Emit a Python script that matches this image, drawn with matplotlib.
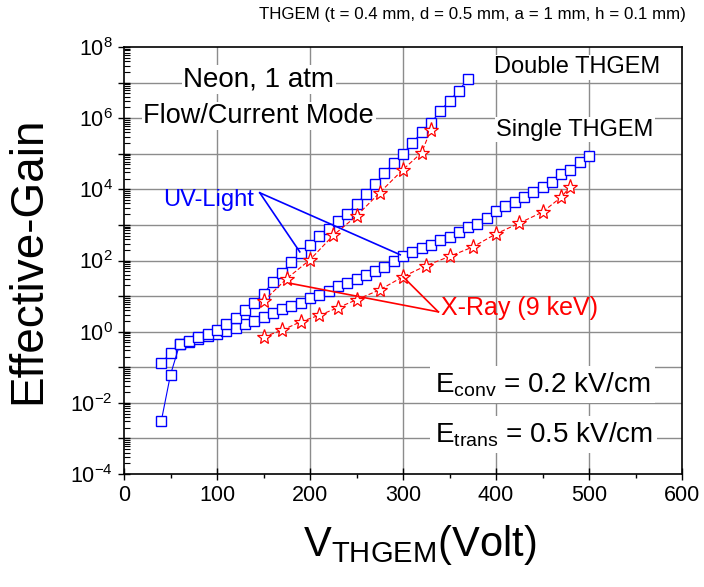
import numpy as np
import matplotlib.pyplot as plt
from matplotlib.ticker import LogLocator, FuncFormatter, MultipleLocator, NullFormatter

plt.rcParams['font.family'] = ['Liberation Sans', 'DejaVu Sans']
plt.rcParams['mathtext.fontset'] = 'custom'
plt.rcParams['mathtext.rm'] = 'Liberation Sans'

# Double THGEM, UV light
v_double_uv = np.arange(40, 371, 10)
g_double_uv = [0.003, 0.062, 0.45, 0.54, 0.69, 0.87, 1.12, 1.6, 2.5, 4.0, 6.6, 11.5, 25, 46,
               89, 160, 280, 500, 790, 1260, 2000, 3900, 7400, 14000, 28000, 56000, 1.0e5,
               2.0e5, 4.0e5, 7.2e5, 1.6e6, 3.1e6, 5.9e6, 1.3e7]

# Single THGEM, UV light
v_single_uv = np.arange(40, 501, 10)
g_single_uv = [0.13, 0.25, 0.45, 0.50, 0.63, 0.74, 0.87, 1.05, 1.3, 1.6, 2.0, 2.6, 3.4, 4.3,
               5.4, 6.6, 8.9, 11, 14, 19, 24, 31, 38, 52, 66, 95, 130, 170, 230, 270, 370,
               460, 630, 870, 1070, 1600, 2400, 3300, 4400, 6000, 8300, 11500, 15800, 27500,
               35500, 59000, 89000]

# Double THGEM, X-ray
v_double_xr = [150, 175, 200, 225, 250, 275, 300, 320, 330]
g_double_xr = [7.2, 31, 105, 510, 1780, 8100, 36000, 107000, 480000]

# Single THGEM, X-ray
v_single_xr = [150, 170, 190, 210, 230, 250, 275, 300, 325, 350, 375, 400, 425, 450, 470, 480]
g_single_xr = [0.71, 1.1, 1.9, 2.9, 4.7, 7.9, 15, 35, 72, 130, 240, 560, 1120, 2300, 6000, 12000]

fig = plt.figure(figsize=(7.04, 5.87), dpi=100)
ax = fig.add_axes([124 / 704, 1 - 474 / 587, 558 / 704, 427 / 587])

ax.set_xlim(0, 600)
ax.set_yscale('log')
ax.set_ylim(1e-4, 1e8)

sq = dict(marker='s', markersize=6.8, markerfacecolor='white', markeredgecolor='blue',
          markeredgewidth=1.0, color='blue', lw=0.8)
st = dict(marker='*', markersize=11, markerfacecolor='white', markeredgecolor='red',
          markeredgewidth=0.9, color='red', lw=0.8, dashes=(4, 2))

ax.plot(v_single_uv, g_single_uv, zorder=3, **sq)
ax.plot(v_double_uv, g_double_uv, zorder=3, **sq)
ax.plot(v_single_xr, g_single_xr, zorder=4, **st)
ax.plot(v_double_xr, g_double_xr, zorder=4, **st)

# ticks and grid
ax.xaxis.set_major_locator(MultipleLocator(100))
ax.xaxis.set_minor_locator(MultipleLocator(50))
ax.yaxis.set_major_locator(LogLocator(base=10, numticks=20))
ax.yaxis.set_minor_locator(LogLocator(base=10, subs=np.arange(2, 10), numticks=20))
ax.yaxis.set_minor_formatter(NullFormatter())


def ylab(y, pos):
    e = int(round(np.log10(y)))
    if e % 2:
        return ''
    return r'$\mathregular{10^{%d}}$' % e


ax.yaxis.set_major_formatter(FuncFormatter(ylab))
for xv in range(100, 600, 100):
    ax.axvline(xv, color='#8c8c8c', lw=1.0, zorder=0)
for e in range(-3, 8):
    ax.axhline(10.0 ** e, color='#8c8c8c', lw=1.0, zorder=0)

ax.tick_params(which='major', direction='inout', length=8, width=1, labelsize=15.5, pad=4)
ax.tick_params(axis='y', which='minor', direction='in', length=4, width=0.8)
ax.tick_params(axis='x', which='minor', direction='out', length=3, width=1)
for s in ax.spines.values():
    s.set_linewidth(1.2)

ax.set_ylabel('Effective-Gain', fontsize=33)
ax.yaxis.set_label_coords(-0.133, 0.5)
ax.set_xlabel(r'V$_{\mathregular{THGEM}}$(Volt)', fontsize=30)
ax.xaxis.set_label_coords(0.53, -0.115)

box = dict(facecolor='white', edgecolor='none', pad=1)
ax.text(145, 1.2e7, 'Neon, 1 atm', fontsize=20, ha='center', va='center', bbox=box, zorder=5)
ax.text(145, 1.15e6, 'Flow/Current Mode', fontsize=19.5, ha='center', va='center', bbox=box, zorder=5)
ax.text(487, 2.7e7, 'Double THGEM', fontsize=17, ha='center', va='center', bbox=box, zorder=5)
ax.text(485, 4.7e5, 'Single THGEM', fontsize=17, ha='center', va='center', bbox=box, zorder=5)
ax.text(91, 5.0e3, 'UV-Light', fontsize=17, color='blue', ha='center', va='center', zorder=5)
ax.text(425, 4.7, 'X-Ray (9 keV)', fontsize=18, color='red', ha='center', va='center', zorder=5)

# pointer lines
ax.plot([146, 189], [8000, 175], color='blue', lw=1.2, zorder=5)
ax.plot([146, 297], [8000, 145], color='blue', lw=1.2, zorder=5)
ax.plot([338, 300], [3.6, 35], color='red', lw=1.2, zorder=5)
ax.plot([338, 178], [3.6, 23], color='red', lw=1.2, zorder=5)

ax.text(334, 10 ** -1.69, r'E$_{\mathregular{conv}}$ = 0.2 kV/cm', fontsize=20, ha='left',
        va='baseline', bbox=dict(facecolor='white', edgecolor='none', pad=3), zorder=5)
ax.text(334, 10 ** -3.10, r'E$_{\mathregular{trans}}$ = 0.5 kV/cm', fontsize=20, ha='left',
        va='baseline', bbox=dict(facecolor='white', edgecolor='none', pad=3), zorder=5)

fig.text(686 / 704, 1 - 15 / 587, 'THGEM (t = 0.4 mm, d = 0.5 mm, a = 1 mm, h = 0.1 mm)',
         fontsize=12.2, ha='right', va='center')

fig.savefig('out.png', dpi=100)
